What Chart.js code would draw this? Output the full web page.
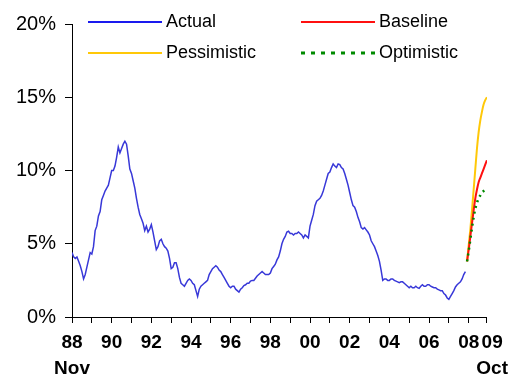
<!DOCTYPE html>
<html>
<head>
<meta charset="utf-8">
<script src="https://cdn.jsdelivr.net/npm/chart.js@4.4.1/dist/chart.umd.min.js"></script>
<style>
  body { margin: 0; background: #fff; }
</style>
</head>
<body>
<canvas id="chart" width="515" height="376"></canvas>
<script>
// monthly values, index 0 = Nov 88
var actual = [
  4.4, 4.1, 4.0, 4.1, 3.8, 3.5, 3.1, 2.6, 2.9, 3.4, 3.9, 4.4,
  4.3, 4.8, 5.9, 6.2, 6.9, 7.2, 8.0, 8.3, 8.6, 8.8, 9.0, 9.5,
  10.0, 10.0, 10.3, 10.9, 11.6, 11.2, 11.5, 11.8, 12.0, 11.8, 11.0, 10.1,
  9.8, 9.3, 8.8, 8.1, 7.5, 7.0, 6.7, 6.4, 5.9, 6.2, 5.8, 6.0,
  6.3, 5.8, 5.2, 4.6, 4.8, 5.2, 5.3, 5.0, 4.8, 4.7, 4.5, 4.0,
  3.3, 3.4, 3.7, 3.7, 3.3, 2.7, 2.3, 2.2, 2.1, 2.3, 2.5, 2.6,
  2.5, 2.3, 2.2, 1.8, 1.4, 1.9, 2.1, 2.2, 2.3, 2.4, 2.5, 2.9,
  3.1, 3.3, 3.4, 3.5, 3.4, 3.2, 3.1, 2.9, 2.7, 2.5, 2.3, 2.1,
  2.0, 2.1, 2.1, 1.9, 1.8, 1.7, 1.9, 2.0, 2.15, 2.2, 2.3, 2.3,
  2.45, 2.5, 2.5, 2.65, 2.8, 2.9, 3.0, 3.1, 3.0, 2.9, 2.9, 2.9,
  3.0, 3.3, 3.45, 3.6, 3.9, 4.1, 4.5, 5.0, 5.3, 5.5, 5.8, 5.85,
  5.7, 5.7, 5.6, 5.7, 5.7, 5.8, 5.7, 5.6, 5.4, 5.6, 5.5, 5.4,
  6.2, 6.6, 7.0, 7.6, 7.9, 8.0, 8.1, 8.3, 8.6, 9.0, 9.4, 9.8,
  9.9, 10.2, 10.45, 10.3, 10.2, 10.45, 10.4, 10.2, 10.1, 9.8, 9.4, 9.0,
  8.5, 8.0, 7.6, 7.5, 7.2, 6.8, 6.5, 6.1, 6.0, 6.1, 5.95, 5.8,
  5.6, 5.2, 5.0, 4.8, 4.5, 4.2, 3.8, 3.2, 2.5, 2.6, 2.6, 2.5,
  2.5, 2.6, 2.6, 2.5, 2.45, 2.4, 2.35, 2.4, 2.4, 2.3, 2.2, 2.1,
  2.0, 2.1, 2.0, 2.0, 2.1, 2.0, 1.95, 2.1, 2.2, 2.1, 2.1, 2.2,
  2.2, 2.1, 2.05, 2.0, 2.0, 1.9, 1.85, 1.8, 1.8, 1.6, 1.5, 1.3,
  1.2, 1.4, 1.6, 1.8, 2.05, 2.2, 2.3, 2.4, 2.6, 2.9, 3.1
];
// forecasts, Oct 08 .. Oct 09
var forecastStart = 239;
var baseline    = [3.8, 4.6, 5.5, 6.4, 7.3, 8.1, 8.7, 9.2, 9.5, 9.8, 10.1, 10.4, 10.7];
var pessimistic = [3.8, 4.9, 6.0, 7.3, 8.7, 10.1, 11.5, 12.6, 13.4, 14.0, 14.5, 14.8, 15.0];
var optimistic  = [3.8, 4.5, 5.3, 6.1, 6.8, 7.4, 7.8, 8.1, 8.3, 8.5, 8.6, 8.7, 8.8];

var xTicks = [0, 12, 24, 36, 48, 60, 72, 84, 96, 108, 120, 132, 144, 156, 168, 180, 192, 204, 216, 228, 240, 251];
var xTickLabels = [['88', 'Nov'], '', '90', '', '92', '', '94', '', '96', '', '98', '', '00', '', '02', '', '04', '', '06', '', '08', ['  09', '  Oct']];
var yTicks = [0, 5, 10, 15, 20];

var BLUE = '#3838d8', RED = '#ff1010', GOLD = '#ffc808', GREEN = '#008a00';

function pts(vals, start) {
  return vals.map(function(v, i) { return { x: start + i, y: v }; });
}

var legendItems = [
  { text: 'Actual', color: '#1a1aee', x: 88, y: 22, dash: [] },
  { text: 'Baseline', color: RED, x: 301, y: 22, dash: [] },
  { text: 'Pessimistic', color: GOLD, x: 88, y: 53, dash: [] },
  { text: 'Optimistic', color: GREEN, x: 301, y: 53, dash: [4, 6] }
];

var legendPlugin = {
  id: 'fixedLegend',
  afterDraw: function(chart) {
    var c = chart.ctx;
    c.save();
    c.font = '18px "Liberation Sans", Arial, sans-serif';
    c.textBaseline = 'middle';
    c.fillStyle = '#000';
    legendItems.forEach(function(it) {
      c.beginPath();
      c.strokeStyle = it.color;
      c.lineWidth = it.dash.length ? 3 : 2;
      c.setLineDash(it.dash);
      c.moveTo(it.x, it.y);
      c.lineTo(it.x + 74, it.y);
      c.stroke();
      c.setLineDash([]);
      c.fillText(it.text, it.x + 78, it.y);
    });
    c.restore();
  }
};

var ctx = document.getElementById('chart');
var chart = new Chart(ctx, {
  type: 'line',
  data: {
    datasets: [{
      label: 'Actual',
      data: pts(actual, 0),
      borderColor: BLUE,
      borderWidth: 1.5,
      order: 3
    }, {
      label: 'Baseline',
      data: pts(baseline, forecastStart),
      borderColor: RED,
      borderWidth: 2,
      cubicInterpolationMode: 'monotone',
      order: 1
    }, {
      label: 'Pessimistic',
      data: pts(pessimistic, forecastStart),
      borderColor: GOLD,
      borderWidth: 2,
      cubicInterpolationMode: 'monotone',
      order: 2
    }, {
      label: 'Optimistic',
      data: pts(optimistic, forecastStart),
      borderColor: GREEN,
      borderWidth: 2.5,
      borderDash: [2, 4],
      cubicInterpolationMode: 'monotone',
      order: 0
    }]
  },
  options: {
    responsive: false,
    animation: false,
    devicePixelRatio: 1,
    layout: { padding: { top: 24, right: 26, left: 0, bottom: 0 } },
    elements: { point: { radius: 0 }, line: { tension: 0 } },
    plugins: { legend: { display: false }, tooltip: { enabled: false } },
    scales: {
      x: {
        type: 'linear',
        min: 0,
        max: 251,
        afterBuildTicks: function(scale) {
          scale.ticks = xTicks.map(function(v) { return { value: v }; });
        },
        afterFit: function(scale) { scale.height = 59; },
        border: { color: '#000', width: 1 },
        grid: { drawOnChartArea: false, color: '#000', tickLength: 6 },
        ticks: {
          autoSkip: false,
          maxRotation: 0,
          padding: 7,
          color: '#000',
          font: { family: '"Liberation Sans", Arial, sans-serif', size: 19, weight: 'bold', lineHeight: 1.35 },
          callback: function(value, index) { return xTickLabels[index]; }
        }
      },
      y: {
        min: 0,
        max: 20,
        afterBuildTicks: function(scale) {
          scale.ticks = yTicks.map(function(v) { return { value: v }; });
        },
        afterFit: function(scale) { scale.width = 72; },
        border: { color: '#000', width: 1 },
        grid: { drawOnChartArea: false, color: '#000', tickLength: 7 },
        ticks: {
          padding: 9,
          color: '#000',
          font: { family: '"Liberation Sans", Arial, sans-serif', size: 20 },
          callback: function(value) { return value + '%'; }
        }
      }
    }
  },
  plugins: [legendPlugin]
});
</script>
</body>
</html>
